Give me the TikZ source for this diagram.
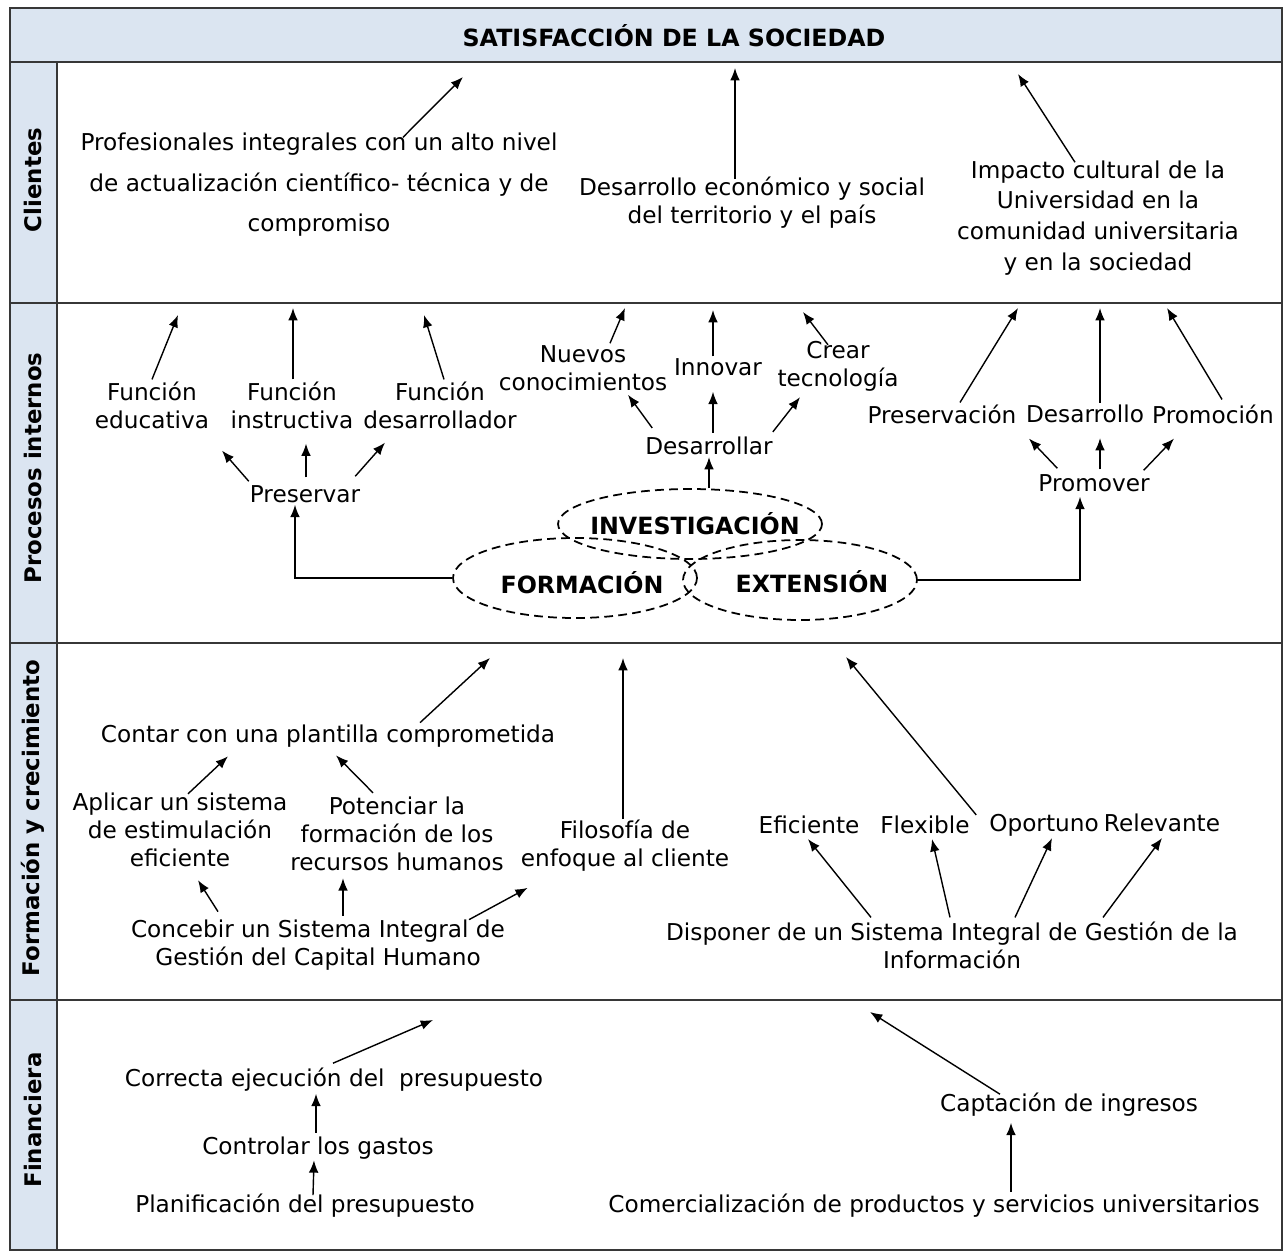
\documentclass[tikz,border=0pt]{standalone}
\usepackage{fontspec}
\setmainfont{DejaVu Sans}
\usetikzlibrary{arrows.meta,shapes.geometric}
\definecolor{lanebg}{RGB}{219,229,241}
\definecolor{rulec}{RGB}{55,55,55}
\tikzset{
  txt/.style={inner sep=1pt,align=center,font=\fontsize{13.2}{16}\selectfont},
  lane/.style={rotate=90,font=\fontsize{13}{16}\selectfont\bfseries},
  circ/.style={ellipse,draw,dash pattern=on 5pt off 3pt,line width=1pt,inner sep=0pt},
  circlbl/.style={font=\fontsize{13.5}{16}\selectfont\bfseries},
  arr/.style={-{Latex[length=7pt,width=5.5pt]},line width=0.8pt},
  frame/.style={rulec,line width=1.1pt}
}
\begin{document}
\begin{tikzpicture}[x=0.02cm,y=-0.02cm]
\useasboundingbox (0,0) rectangle (1284,1251);
% frame and lanes
\fill[lanebg] (10,8) rectangle (1282,62);
\fill[lanebg] (10,62) rectangle (57,1250);
\draw[frame] (10,8) rectangle (1282,1250);
\foreach \y in {62,303,643,1000}
  \draw[frame] (10,\y) -- (1282,\y);
\draw[frame] (57,62) -- (57,1250);
\node[circlbl] (head) at (674,36) {SATISFACCIÓN DE LA SOCIEDAD};
\node[lane] (lcli) at (33,180) {Clientes};
\node[lane] (lproc) at (33,468) {Procesos internos};
\node[lane] (lform) at (33,818) {Formación y crecimiento};
\node[lane] (lfin) at (33,1120) {Financiera};

% clientes
\node[txt,font=\fontsize{13.2}{23}\selectfont] (prof) at (319,185) {Profesionales integrales con un alto nivel\\de actualización científico- técnica y de\\compromiso};
\node[txt] (desec) at (752,203) {Desarrollo económico y social\\del territorio y el país};
\node[txt,font=\fontsize{13.2}{17.6}\selectfont] (imp) at (1098,218) {Impacto cultural de la\\Universidad en la\\comunidad universitaria\\y en la sociedad};
\coordinate (tclA) at (463,77);
\coordinate (tclB) at (735,68);
\coordinate (tclC) at (1018,74);
\draw[arr] ([shift={(84,6)}]prof.north) -- (tclA);
\draw[arr] ([shift={(-17,4)}]desec.north) -- (tclB);
\draw[arr] ([shift={(-23,4)}]imp.north) -- (tclC);

% procesos internos
\node[txt] (fedu) at (152,405) {Función\\educativa};
\node[txt] (fins) at (292,405) {Función\\instructiva};
\node[txt] (fdes) at (440,405) {Función\\desarrollador};
\node[txt] (nuev) at (583,368) {Nuevos\\conocimientos};
\node[txt] (innov) at (718,367) {Innovar};
\node[txt] (crear) at (838,366) {Crear\\tecnología};
\node[txt] (desa) at (709,446) {Desarrollar};
\node[txt] (pres) at (305,494) {Preservar};
\node[txt] (pserv) at (942,414) {Preservación};
\node[txt] (desr) at (1085,414) {Desarrollo};
\node[txt] (promc) at (1213,414) {Promoción};
\node[txt] (promov) at (1094,483) {Promover};
\node[circ,minimum width=5.28cm,minimum height=1.4cm] (inv) at (690,524) {};
\node[circ,minimum width=4.88cm,minimum height=1.6cm] (form) at (575,578) {};
\node[circ,minimum width=4.68cm,minimum height=1.6cm] (ext) at (800,580) {};
\node[circlbl] (invt) at (695,524) {INVESTIGACIÓN};
\node[circlbl] (formt) at (582,583) {FORMACIÓN};
\node[circlbl] (extt) at (812,582) {EXTENSIÓN};
\coordinate (tpiA) at (178,315);
\coordinate (tpiB) at (293,308);
\coordinate (tpiC) at (424,315);
\coordinate (tpiD) at (625,308);
\coordinate (tpiE) at (713,310);
\coordinate (tpiF) at (803,312);
\coordinate (tpiG) at (1018,308);
\coordinate (tpiH) at (1100,308);
\coordinate (tpiI) at (1167,308);
\draw[arr] (fedu.north) -- (tpiA);
\draw[arr] ([shift={(1,0)}]fins.north) -- (tpiB);
\draw[arr] ([shift={(4,0)}]fdes.north) -- (tpiC);
\draw[arr] ([shift={(27,0)}]nuev.north) -- (tpiD);
\draw[arr] ([shift={(-5,0)}]innov.north) -- (tpiE);
\draw[arr] ([shift={(-10,6)}]crear.north) -- (tpiF);
\draw[arr] ([shift={(9,-7)}]desa.north west) -- ([shift={(45,2)}]nuev.south);
\draw[arr] ([shift={(4,-2)}]desa.north) -- ([shift={(-5,14)}]innov.south);
\draw[arr] ([shift={(-2,-3)}]desa.north east) -- ([shift={(-38,4)}]crear.south);
\draw[arr] (desa.south |- inv.north) -- (desa.south);
\draw[arr] ([shift={(1,-2)}]pres.north west) -- ([shift={(70,20)}]fedu.south);
\draw[arr] ([shift={(1,-6)}]pres.north) -- ([shift={(14,13)}]fins.south);
\draw[arr] ([shift={(-7,-7)}]pres.north east) -- ([shift={(-55,12)}]fdes.south);
\draw[arr] (form.west) -| ([shift={(-10,0)}]pres.south);
\draw[arr] ([shift={(18,0)}]pserv.north) -- (tpiG);
\draw[arr] ([shift={(15,0)}]desr.north) -- (tpiH);
\draw[arr] ([shift={(9,-3)}]promc.north) -- (tpiI);
\draw[arr] ([shift={(21,-4)}]promov.north west) -- ([shift={(87,13)}]pserv.south);
\draw[arr] ([shift={(6,-3)}]promov.north) -- ([shift={(15,13)}]desr.south);
\draw[arr] ([shift={(-8,-2)}]promov.north east) -- ([shift={(-39,13)}]promc.south);
\draw[arr] (ext.east) -| ([shift={(-14,3)}]promov.south);

% formacion y crecimiento
\node[txt] (cont) at (328,736) {Contar con una plantilla comprometida};
\node[txt] (aplic) at (180,830) {Aplicar un sistema\\de estimulación\\eficiente};
\node[txt] (poten) at (397,834) {Potenciar la\\formación de los\\recursos humanos};
\node[txt] (filo) at (625,846) {Filosofía de\\enfoque al cliente};
\node[txt] (conc) at (318,945) {Concebir un Sistema Integral de\\Gestión del Capital Humano};
\node[txt] (efic) at (809,825) {Eficiente};
\node[txt] (flex) at (925,825) {Flexible};
\node[txt] (oport) at (1044,825) {Oportuno};
\node[txt] (relev) at (1162,823) {Relevante};
\node[txt] (disp) at (952,945) {Disponer de un Sistema Integral de Gestión de la\\Información};
\coordinate (tfcA) at (490,658);
\coordinate (tfcB) at (623,658);
\coordinate (tfcC) at (846,657);
\draw[arr] ([shift={(92,0)}]cont.north) -- (tfcA);
\draw[arr] ([shift={(-2,1)}]filo.north) -- (tfcB);
\draw[arr] ([shift={(-11,3)}]oport.north west) -- (tfcC);
\draw[arr] ([shift={(8,3)}]aplic.north) -- ([shift={(-100,7)}]cont.south);
\draw[arr] ([shift={(-24,-2)}]poten.north) -- ([shift={(8,6)}]cont.south);
\draw[arr] ([shift={(-100,-6)}]conc.north) -- ([shift={(18,11)}]aplic.south);
\draw[arr] ([shift={(25,-2)}]conc.north) -- ([shift={(-54,5)}]poten.south);
\draw[arr] ([shift={(-38,2)}]conc.north east) -- ([shift={(9,14)}]filo.south west);
\draw[arr] ([shift={(-81,-2)}]disp.north) -- ([shift={(-1,3)}]efic.south);
\draw[arr] ([shift={(-2,-2)}]disp.north) -- ([shift={(7,3)}]flex.south);
\draw[arr] ([shift={(63,-2)}]disp.north) -- ([shift={(8,0)}]oport.south);
\draw[arr] ([shift={(151,-2)}]disp.north) -- ([shift={(0,4)}]relev.south);

% financiera
\node[txt] (corr) at (334,1080) {Correcta ejecución del \ presupuesto};
\node[txt] (ctrl) at (318,1148) {Controlar los gastos};
\node[txt] (plan) at (305,1206) {Planificación del presupuesto};
\node[txt] (capt) at (1069,1105) {Captación de ingresos};
\node[txt] (comer) at (934,1206) {Comercialización de productos y servicios universitarios};
\coordinate (tfiA) at (433,1020);
\coordinate (tfiB) at (870,1012);
\draw[arr] ([shift={(-1,-3)}]corr.north) -- (tfiA);
\draw[arr] ([shift={(-69,3)}]capt.north) -- (tfiB);
\draw[arr] ([shift={(-2,-2)}]ctrl.north) -- ([shift={(-18,0)}]corr.south);
\draw[arr] ([shift={(8,3)}]plan.north) -- ([shift={(-4,-1)}]ctrl.south);
\draw[arr] ([shift={(77,0)}]comer.north) -- ([shift={(-58,4)}]capt.south);
\end{tikzpicture}
\end{document}
